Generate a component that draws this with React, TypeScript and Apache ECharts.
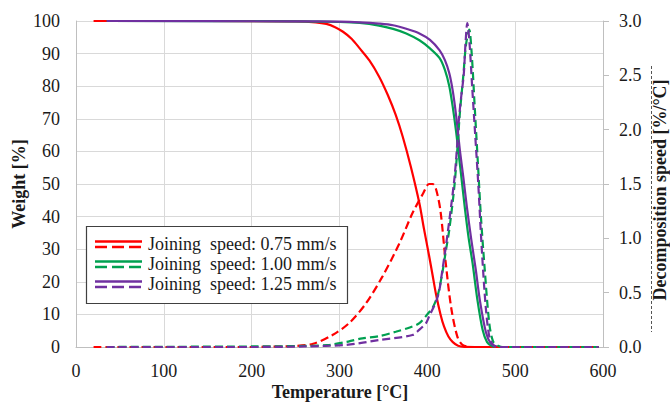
import React, { useEffect, useRef } from "react";
import * as echarts from "echarts";

const legendLabels = [
  "Joining  speed: 0.75 mm/s",
  "Joining  speed: 1.00 mm/s",
  "Joining  speed: 1.25 mm/s",
];
const colors = ["#ff0000", "#00a050", "#7030a0"];

// Weight [%] vs temperature [°C]
const weight075 = [
  [20, 100], [150, 100], [250, 99.9], [273, 99.6], [285, 99.1], [295, 98.1], [304, 96.7],
  [314, 94.5], [323, 91.6], [334, 87.9], [345, 83], [355, 77.3], [364, 71.2], [372, 64.5],
  [381, 55.5], [391, 44], [396, 36.5], [402, 28], [406, 22], [410, 16], [415, 10],
  [419, 6.3], [424, 3.2], [429, 1.5], [435, 0.4], [442, 0.05], [460, 0], [595, 0],
];
const weight100 = [
  [35, 100], [250, 99.9], [300, 99.7], [323, 99.4], [345, 98.6], [361, 97.6], [376, 96.2],
  [391, 94.1], [403, 91.6], [414, 88.6], [420, 85], [425, 80], [429, 73.5], [433, 65.5],
  [436, 58.5], [439, 51.5], [443, 42], [447, 33.5], [451.5, 25.7], [457, 14.5], [463, 5.2],
  [468, 1.5], [474, 0.2], [480, 0], [595, 0],
];
const weight125 = [
  [35, 100], [250, 99.9], [300, 99.8], [323, 99.6], [345, 99.2], [361, 98.7], [376, 97.6],
  [391, 96.2], [403, 94.2], [414, 91], [420, 88], [425, 84], [429, 78.5], [433, 70.5],
  [437, 60.5], [441, 52], [445, 43], [450, 33], [455, 24], [460, 14], [466.7, 4.5],
  [472, 1.2], [478, 0.2], [485, 0], [595, 0],
];

// Decomposition speed [%/°C] vs temperature [°C]
const speed075 = [
  [20, 0], [200, 0], [250, 0.01], [270, 0.03], [292, 0.11], [311, 0.22], [330, 0.4],
  [349, 0.65], [368, 0.95], [383, 1.23], [395, 1.41], [402, 1.5], [406, 1.5], [410, 1.45],
  [415, 1.25], [421, 0.77], [427, 0.37], [434, 0.1], [440, 0.02], [450, 0], [595, 0],
];
const speed100 = [
  [35, 0], [200, 0.005], [260, 0.01], [289, 0.02], [310, 0.05], [326, 0.08], [345, 0.1],
  [364, 0.14], [380, 0.18], [391, 0.22], [402, 0.32], [406, 0.36], [412, 0.48], [417, 0.68],
  [421, 0.88], [425, 1.08], [430.7, 1.47], [434, 1.8], [437, 2.15], [441, 2.5], [444, 2.78],
  [447.7, 2.92], [450.5, 2.7], [454, 2.2], [457.5, 1.7], [461, 1.2], [465, 0.75],
  [470.5, 0.22], [475, 0.05], [481, 0.01], [486, 0], [595, 0],
];
const speed125 = [
  [35, 0], [200, 0], [260, 0.005], [308, 0.02], [345, 0.064], [383, 0.11], [391, 0.16],
  [398.5, 0.22], [402, 0.28], [410, 0.42], [413.6, 0.52], [417, 0.7], [421, 0.92],
  [427, 1.29], [430.7, 1.54], [433, 1.75], [436, 2.1], [438.5, 2.3], [441.4, 2.5],
  [443.5, 2.8], [445.5, 2.98], [448, 2.8], [451, 2.4], [454.5, 1.95], [458, 1.5],
  [462, 0.9], [466.7, 0.35], [471, 0.08], [476, 0.01], [481, 0], [595, 0],
];

const weights = [weight075, weight100, weight125];
const speeds = [speed075, speed100, speed125];

const SERIF = "'Liberation Serif', 'Times New Roman', serif";
const TEXT = "#1a1a1a";

export default function App() {
  const ref = useRef<HTMLDivElement>(null);

  useEffect(() => {
    if (!ref.current) return;
    const chart = echarts.init(ref.current, undefined, { renderer: "svg" });

    const series: any[] = [];
    weights.forEach((d, i) => {
      series.push({
        type: "line",
        data: d,
        yAxisIndex: 0,
        showSymbol: false,
        smooth: 0.3,
        lineStyle: { color: colors[i], width: 2.2 },
        z: 3 + i,
      });
    });
    speeds.forEach((d, i) => {
      series.push({
        type: "line",
        data: d,
        yAxisIndex: 1,
        showSymbol: false,
        smooth: 0.3,
        lineStyle: { color: colors[i], width: 2.2, type: [8, 4] },
        z: 6 + i,
      });
    });

    const legendChildren: any[] = [
      {
        type: "rect",
        z: 100,
        shape: { x: 86.5, y: 226.5, width: 261, height: 77 },
        style: { fill: "#ffffff", stroke: "#404040", lineWidth: 1.2 },
      },
    ];
    legendLabels.forEach((label, i) => {
      const cy = 244 + 20 * i;
      legendChildren.push({
        type: "line",
        z: 101,
        shape: { x1: 95, y1: cy - 2.5, x2: 142, y2: cy - 2.5 },
        style: { stroke: colors[i], lineWidth: 2.5 },
      });
      legendChildren.push({
        type: "line",
        z: 101,
        shape: { x1: 95, y1: cy + 3, x2: 142, y2: cy + 3 },
        style: { stroke: colors[i], lineWidth: 2.5, lineDash: [12, 5] },
      });
      legendChildren.push({
        type: "text",
        z: 101,
        x: 148,
        y: cy,
        style: {
          text: label,
          font: `18px ${SERIF}`,
          fill: TEXT,
          textAlign: "left",
          textVerticalAlign: "middle",
        },
      });
    });

    chart.setOption({
      animation: false,
      backgroundColor: "#ffffff",
      grid: { left: 76, right: 67, top: 21, bottom: 56, containLabel: false },
      xAxis: {
        type: "value",
        min: 0,
        max: 600,
        interval: 100,
        axisLine: { show: true, lineStyle: { color: "#bfbfbf", width: 1 } },
        axisTick: { show: false },
        axisLabel: { margin: 15, fontFamily: SERIF, fontSize: 18, color: TEXT },
        splitLine: { show: true, lineStyle: { color: "#d9d9d9", width: 1 } },
      },
      yAxis: [
        {
          type: "value",
          min: 0,
          max: 100,
          interval: 10,
          axisLine: { show: true, lineStyle: { color: "#bfbfbf", width: 1 } },
          axisTick: { show: false },
          axisLabel: { margin: 16, fontFamily: SERIF, fontSize: 18, color: TEXT },
          splitLine: { show: true, lineStyle: { color: "#d9d9d9", width: 1 } },
        },
        {
          type: "value",
          position: "right",
          min: 0,
          max: 3,
          interval: 0.5,
          axisLine: { show: true, lineStyle: { color: "#bfbfbf", width: 1 } },
          axisTick: { show: true, length: 6, lineStyle: { color: "#bfbfbf" } },
          axisLabel: {
            margin: 16,
            fontFamily: SERIF,
            fontSize: 18,
            color: TEXT,
            formatter: (v: number) => v.toFixed(1),
          },
          splitLine: { show: false },
        },
      ],
      series,
      graphic: [
        {
          type: "text",
          x: 19,
          y: 184,
          rotation: Math.PI / 2,
          style: {
            text: "Weight [%]",
            font: `bold 18px ${SERIF}`,
            fill: TEXT,
            textAlign: "center",
            textVerticalAlign: "middle",
          },
        },
        {
          type: "text",
          x: 340,
          y: 392,
          style: {
            text: "Temperature [°C]",
            font: `bold 18px ${SERIF}`,
            fill: TEXT,
            textAlign: "center",
            textVerticalAlign: "middle",
          },
        },
        {
          type: "text",
          x: 660,
          y: 190,
          rotation: Math.PI / 2,
          style: {
            text: "Decomposition speed [%/°C]",
            font: `bold 18px ${SERIF}`,
            fill: TEXT,
            textAlign: "center",
            textVerticalAlign: "middle",
          },
        },
        {
          type: "line",
          shape: { x1: 651.5, y1: 66, x2: 651.5, y2: 332 },
          style: { stroke: "#555", lineWidth: 1, lineDash: [3, 2] },
        },
        {
          type: "group",
          children: legendChildren,
        },
      ],
    });

    return () => chart.dispose();
  }, []);

  return (
    <div
      ref={ref}
      style={{ position: "fixed", left: 0, top: 0, width: 670, height: 403 }}
    />
  );
}
